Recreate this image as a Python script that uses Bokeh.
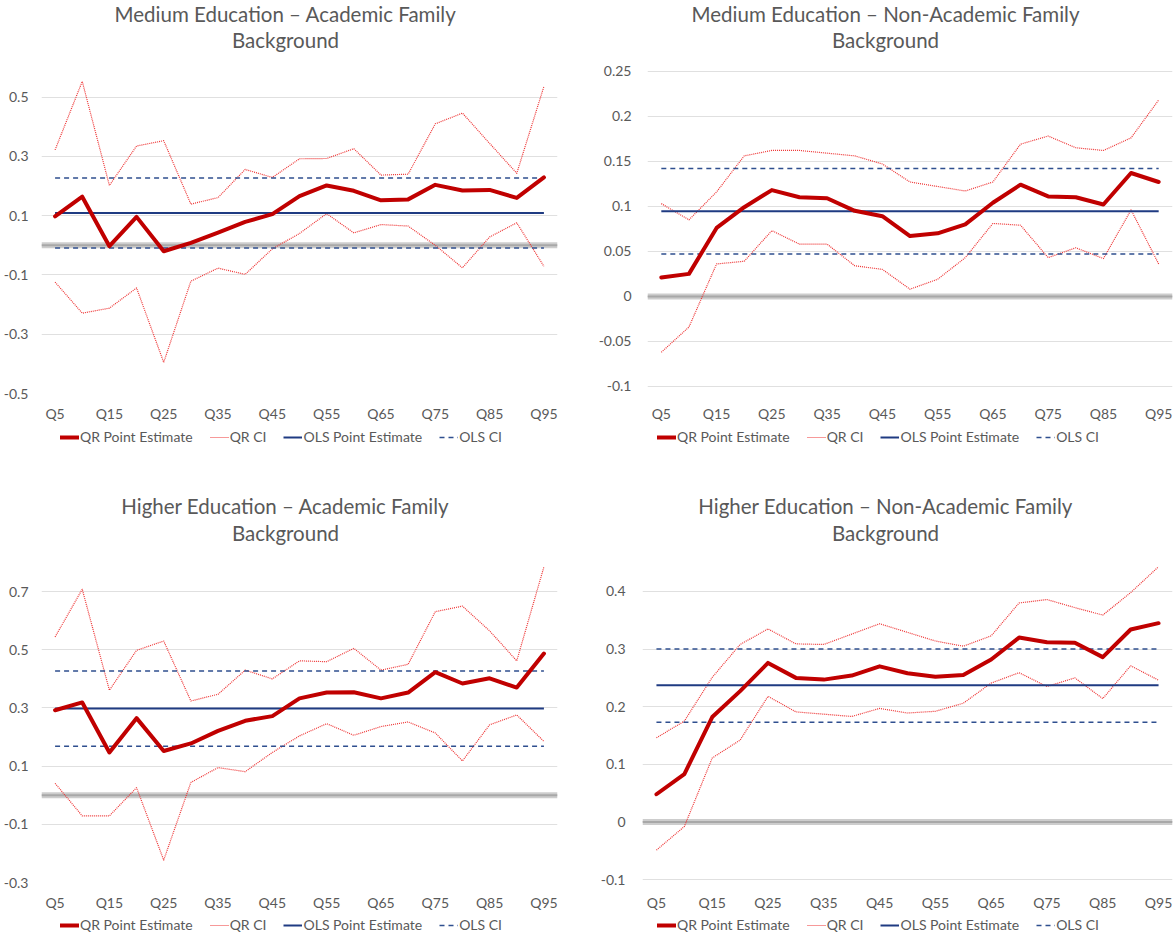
from bokeh.plotting import figure
from bokeh.models import (ColumnDataSource, FixedTicker, CustomJSTickFormatter,
                          Legend, LegendItem, Span, Label, Range1d)
from bokeh.layouts import column, row
from bokeh.embed import file_html
from bokeh.resources import INLINE

# ---------------- data ----------------
quantiles = ["Q5", "Q10", "Q15", "Q20", "Q25", "Q30", "Q35", "Q40", "Q45", "Q50",
             "Q55", "Q60", "Q65", "Q70", "Q75", "Q80", "Q85", "Q90", "Q95"]

# Medium Education - Academic Family Background
med_acad_qr = [0.098, 0.164, -0.003, 0.096, -0.020, 0.008, 0.043, 0.079, 0.105, 0.166,
               0.202, 0.184, 0.152, 0.155, 0.204, 0.185, 0.187, 0.160, 0.229]
med_acad_hi = [0.322, 0.553, 0.202, 0.335, 0.353, 0.139, 0.161, 0.256, 0.229, 0.292,
               0.293, 0.326, 0.237, 0.240, 0.410, 0.446, 0.344, 0.243, 0.536]
med_acad_lo = [-0.124, -0.229, -0.212, -0.144, -0.395, -0.121, -0.077, -0.098, -0.012, 0.040,
               0.107, 0.042, 0.070, 0.065, 0.000, -0.076, 0.028, 0.076, -0.071]
med_acad_ols = [0.109, -0.009, 0.227]          # estimate, lower CI, upper CI

# Medium Education - Non-Academic Family Background
med_non_qr = [0.021, 0.025, 0.076, 0.099, 0.118, 0.110, 0.109, 0.095, 0.089, 0.067,
              0.070, 0.080, 0.104, 0.124, 0.111, 0.110, 0.102, 0.137, 0.127]
med_non_hi = [0.103, 0.085, 0.116, 0.156, 0.162, 0.162, 0.159, 0.156, 0.147, 0.127,
              0.122, 0.117, 0.127, 0.169, 0.178, 0.165, 0.162, 0.176, 0.218]
med_non_lo = [-0.062, -0.034, 0.036, 0.039, 0.073, 0.058, 0.058, 0.034, 0.030, 0.008,
              0.019, 0.043, 0.081, 0.079, 0.043, 0.054, 0.042, 0.096, 0.036]
med_non_ols = [0.0945, 0.047, 0.142]

# Higher Education - Academic Family Background
high_acad_qr = [0.292, 0.319, 0.147, 0.265, 0.152, 0.178, 0.221, 0.256, 0.272, 0.333,
                0.353, 0.354, 0.333, 0.353, 0.423, 0.384, 0.402, 0.370, 0.487]
high_acad_hi = [0.544, 0.708, 0.361, 0.498, 0.530, 0.324, 0.347, 0.430, 0.400, 0.462,
                0.459, 0.505, 0.430, 0.450, 0.631, 0.650, 0.565, 0.462, 0.785]
high_acad_lo = [0.041, -0.071, -0.071, 0.026, -0.223, 0.044, 0.095, 0.081, 0.147, 0.204,
                0.246, 0.206, 0.236, 0.252, 0.214, 0.118, 0.242, 0.276, 0.185]
high_acad_ols = [0.298, 0.168, 0.427]

# Higher Education - Non-Academic Family Background
high_non_qr = [0.048, 0.083, 0.182, 0.227, 0.276, 0.250, 0.247, 0.254, 0.270, 0.258,
               0.252, 0.255, 0.282, 0.320, 0.312, 0.311, 0.286, 0.334, 0.345]
high_non_hi = [0.146, 0.175, 0.251, 0.308, 0.335, 0.309, 0.308, 0.326, 0.344, 0.329,
               0.314, 0.305, 0.323, 0.380, 0.386, 0.372, 0.359, 0.398, 0.443]
high_non_lo = [-0.049, -0.008, 0.111, 0.142, 0.218, 0.191, 0.187, 0.183, 0.197, 0.189,
               0.192, 0.206, 0.241, 0.259, 0.235, 0.250, 0.214, 0.271, 0.246]
high_non_ols = [0.237, 0.173, 0.300]

titles = [
    ["Medium Education \u2013 Academic Family", "Background"],
    ["Medium Education \u2013 Non-Academic Family", "Background"],
    ["Higher Education \u2013 Academic Family", "Background"],
    ["Higher Education \u2013 Non-Academic Family", "Background"],
]
y_ticks = [
    [-0.5, -0.3, -0.1, 0.1, 0.3, 0.5],
    [-0.1, -0.05, 0, 0.05, 0.1, 0.15, 0.2, 0.25],
    [-0.3, -0.1, 0.1, 0.3, 0.5, 0.7],
    [-0.1, 0, 0.1, 0.2, 0.3, 0.4],
]
legend_labels = ["QR Point Estimate", "QR CI", "OLS Point Estimate", "OLS CI"]

# ---------------- style ----------------
FONT = "Lato"
TXT = "#595959"
QR_COL = "#c00000"
CI_COL = "#ee3333"
OLS_COL = "#1f3b82"
OLSCI_COL = "#2f4f8f"

STYLE_QR = dict(line_color=QR_COL, line_width=4, line_join="round", line_cap="round")
STYLE_CI = dict(line_color=CI_COL, line_width=1.2, line_dash="1 1", line_join="round")
STYLE_OLS = dict(line_color=OLS_COL, line_width=2)
STYLE_OLSCI = dict(line_color=OLSCI_COL, line_width=1.5, line_dash="5 4")


def blank(width, height, mbl, mbr, **kw):
    f = figure(width=width, height=height, output_backend="svg", toolbar_location=None,
               x_axis_type=None, y_axis_type=None, title=None,
               min_border_left=mbl, min_border_right=mbr,
               min_border_top=0, min_border_bottom=0, **kw)
    f.outline_line_color = None
    f.grid.grid_line_color = None
    f.background_fill_color = "white"
    f.border_fill_color = "white"
    return f


def header(title, width, height, mbl, mbr, cx, y1, y2):
    h = blank(width, height, mbl, mbr)
    for txt, yy in ((title[0], y1), (title[1], y2)):
        h.add_layout(Label(x=cx, y=yy, x_units="screen", y_units="screen", text=txt,
                           text_font=FONT, text_font_size="20.5px", text_color=TXT,
                           text_align="center", text_baseline="middle"))
    return h


def legend_fig(src, width, height, mbl, mbr, lx, ly):
    # the legend lives in its own strip below the chart; its line renderers share the
    # chart's data but the strip's x-range lies outside it, so only the legend shows
    f = blank(width, height, mbl, mbr, x_range=Range1d(-100, -99), y_range=Range1d(0, 1))
    r_qr = f.line("x", "qr", source=src, **STYLE_QR)
    r_ci = f.line("x", "lo", source=src, **STYLE_CI)
    r_ols = f.line("x", "ols", source=src, **STYLE_OLS)
    r_olsci = f.line("x", "ols_lo", source=src, **STYLE_OLSCI)
    leg = Legend(items=[LegendItem(label=legend_labels[0], renderers=[r_qr]),
                        LegendItem(label=legend_labels[1], renderers=[r_ci]),
                        LegendItem(label=legend_labels[2], renderers=[r_ols]),
                        LegendItem(label=legend_labels[3], renderers=[r_olsci])],
                 orientation="horizontal", location=(lx, ly),
                 label_text_font=FONT, label_text_font_size="14px",
                 label_text_color=TXT, glyph_width=19, glyph_height=16,
                 label_height=16, label_standoff=1, spacing=17, padding=0,
                 margin=0, border_line_color=None, background_fill_alpha=0)
    f.add_layout(leg, "center")
    return f


def chart(qr, lo, hi, ols, ticks, yr, width, height, mbl, mbr, mbt, mbb, y_standoff):
    n = len(quantiles)
    src = ColumnDataSource(dict(
        x=list(range(n)), qr=qr, lo=lo, hi=hi,
        ols=[ols[0]] * n, ols_lo=[ols[1]] * n, ols_hi=[ols[2]] * n))
    p = figure(width=width, height=height, output_backend="svg", toolbar_location=None,
               title=None, x_range=(-0.5, n - 0.5), y_range=yr,
               min_border_left=mbl, min_border_right=mbr,
               min_border_top=mbt, min_border_bottom=mbb)
    p.outline_line_color = None
    p.background_fill_color = "white"
    p.border_fill_color = "white"

    p.xaxis.ticker = FixedTicker(ticks=list(range(0, n, 2)))
    p.xaxis.formatter = CustomJSTickFormatter(args=dict(labels=quantiles),
                                              code="return labels[Math.round(tick)] || ''")
    p.yaxis.ticker = FixedTicker(ticks=ticks)
    p.yaxis.formatter = CustomJSTickFormatter(code="return tick.toString()")
    for ax in (p.xaxis, p.yaxis):
        ax.axis_line_color = None
        ax.major_tick_line_color = None
        ax.minor_tick_line_color = None
        ax.major_tick_out = 0
        ax.major_tick_in = 0
        ax.minor_tick_out = 0
        ax.minor_tick_in = 0
        ax.major_label_text_font = FONT
        ax.major_label_text_font_size = "14px"
        ax.major_label_text_color = TXT
    p.xaxis.major_label_standoff = 11
    p.yaxis.major_label_standoff = y_standoff
    p.xgrid.grid_line_color = None
    p.ygrid.grid_line_color = "#e0e0e0"
    p.ygrid.grid_line_width = 1

    # zero reference line
    p.add_layout(Span(location=0, dimension="width", line_color="#c4c4c4",
                      line_width=6, line_alpha=0.85, level="underlay"))
    p.add_layout(Span(location=0, dimension="width", line_color="#a8a8a8",
                      line_width=2, level="underlay"))

    p.line("x", "lo", source=src, **STYLE_CI)
    p.line("x", "hi", source=src, **STYLE_CI)
    p.line("x", "ols_lo", source=src, **STYLE_OLSCI)
    p.line("x", "ols_hi", source=src, **STYLE_OLSCI)
    p.line("x", "ols", source=src, **STYLE_OLS)
    p.line("x", "qr", source=src, **STYLE_QR)
    return p, src


def panel(title, qr, lo, hi, ols, ticks, yr, width, head_h, chart_h, leg_h,
          mbl, mbr, mbt, mbb, y_standoff, cx, ty1, ty2, lx, ly):
    p, src = chart(qr, lo, hi, ols, ticks, yr, width, chart_h, mbl, mbr, mbt, mbb, y_standoff)
    return column(header(title, width, head_h, mbl, mbr, cx, ty1, ty2), p,
                  legend_fig(src, width, leg_h, mbl, mbr, lx, ly))


# ----- top row: header 55 + chart 370 + legend 45 = 470 -----
c1 = panel(titles[0], med_acad_qr, med_acad_lo, med_acad_hi, med_acad_ols, y_ticks[0],
           (-0.5, 0.6), 585, 55, 370, 45, 41, 28, 12, 32, 13, 244, 42, 16, 19, 25)
c2 = panel(titles[1], med_non_qr, med_non_lo, med_non_hi, med_non_ols, y_ticks[1],
           (-0.1078, 0.2541), 588, 55, 370, 45, 62, 1, 12, 32, 16, 238, 42, 16, 10, 25)
# ----- bottom row: header 75 + chart 370 + legend 24 = 469 -----
c3 = panel(titles[2], high_acad_qr, high_acad_lo, high_acad_hi, high_acad_ols, y_ticks[2],
           (-0.3, 0.8), 585, 75, 370, 24, 41, 28, 17, 33, 13, 244, 40, 13, 19, 6)
c4 = panel(titles[3], high_non_qr, high_non_lo, high_non_hi, high_non_ols, y_ticks[3],
           (-0.1052, 0.4503), 588, 75, 370, 24, 57, 1, 17, 33, 17, 243, 40, 13, 15, 6)

layout = column(row(c1, c2), row(c3, c4))
open("out.html", "w").write(file_html(layout, INLINE))
